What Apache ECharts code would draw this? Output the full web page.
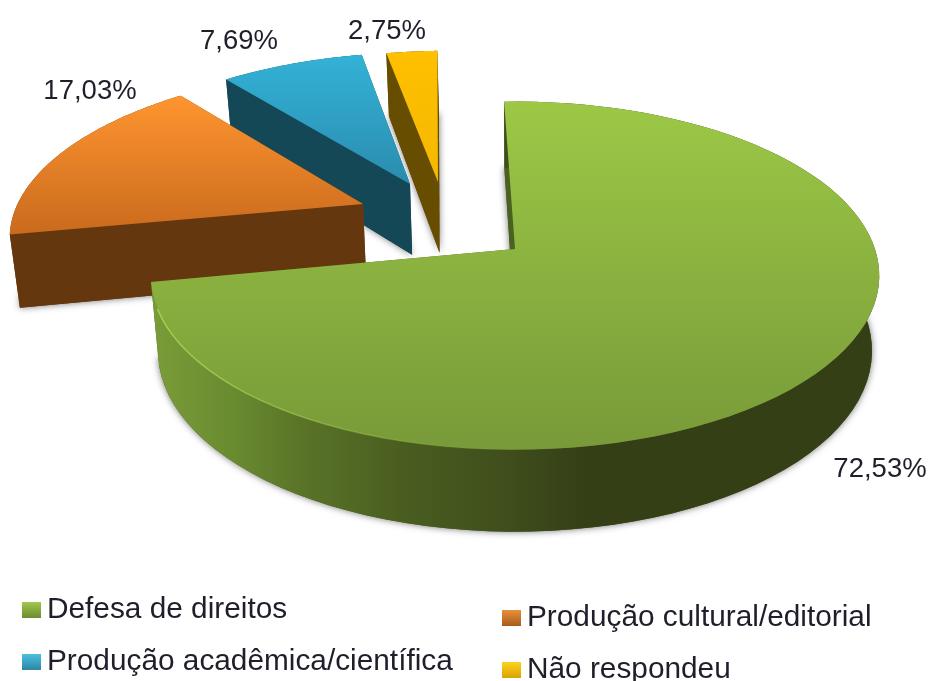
<!DOCTYPE html>
<html>
<head>
<meta charset="utf-8">
<style>
  html, body { margin: 0; padding: 0; background: #fff; }
  #chart { width: 928px; height: 681px; }
</style>
</head>
<body>
<div id="chart"></div>
<script src="https://cdn.jsdelivr.net/npm/echarts@6/dist/echarts.min.js"></script>
<script>
// valores
const categories = ['Defesa de direitos', 'Produção cultural/editorial', 'Produção acadêmica/científica', 'Não respondeu']
const percentValues = [72.53, 17.03, 7.69, 2.75]

// layout da pizza 3D
const centerX = 515
const centerY = 249
const radiusX = 360
const radiusY = 170
const perspective = 0.153
const startAngle = -2
const explodeX = [0, -152, -105, -77]
const explodeY = [0, -45, -65, -67]
const labelX = [880, 90, 239, 387]
const labelY = [469, 91, 41, 31]
const labelFont = '27.5px "Liberation Sans", Arial, sans-serif'

const topColors = [['#9cc846', '#789a39'], ['#ff9530', '#c96a1d'], ['#33b2d7', '#2a8cae'], ['#ffc000', '#f5b800']]
const sideColors = ['#4a6120', '#65370e', '#144857', '#664d00']
const legendColors = [['#a3c64f', '#6d8c30'], ['#e8903a', '#a85c1c'], ['#4cc0de', '#2d86a6'], ['#ffd21f', '#d8a400']]

const total = percentValues.reduce((a, b) => a + b, 0)

const rimColor = (i) => {
  if (i !== 0) return sideColors[i]
  return new echarts.graphic.LinearGradient(150, 0, 880, 0, [
    { offset: 0, color: '#7a9c39' },
    { offset: 0.11, color: '#6a8c30' },
    { offset: 0.205, color: '#5a7428' },
    { offset: 0.34, color: '#4a5e20' },
    { offset: 0.48, color: '#404f1c' },
    { offset: 0.6, color: '#343f16' },
    { offset: 1, color: '#343f16' }
  ], true)
}

// plano -> tela; bottom = camada inferior do disco
const project = (wx, wy, bottom) => {
  const s = 1 / (1 - perspective * wy)
  const x = radiusX * wx * s
  const y = radiusY * wy * s
  if (!bottom) return [centerX + x, centerY + y]
  return [centerX + x * 0.98, centerY + y + 74 + 8 * wy]
}

const sliceShape = (i) => {
  const before = percentValues.slice(0, i).reduce((a, b) => a + b, 0)
  const a0 = startAngle + before / total * 360
  const a1 = a0 + percentValues[i] / total * 360
  // deslocamento da fatia em coordenadas do plano
  const wy0 = explodeY[i] / (radiusY + perspective * explodeY[i])
  const wx0 = explodeX[i] * (1 - perspective * wy0) / radiusX
  const arcWorld = []
  for (let k = 0; k <= 90; k++) {
    const t = (a0 + (a1 - a0) * k / 90) * Math.PI / 180
    arcWorld.push([wx0 + Math.sin(t), wy0 - Math.cos(t)])
  }
  const arcTop = arcWorld.map(p => project(p[0], p[1], false))
  const arcBottom = arcWorld.map(p => project(p[0], p[1], true))
  return {
    arcTop,
    arcBottom,
    apexTop: project(wx0, wy0, false),
    apexBottom: project(wx0, wy0, true)
  }
}

const renderSlice = (i) => () => {
  const s = sliceShape(i)
  const last = s.arcTop.length - 1
  const poly = (points, style) => ({ type: 'polygon', shape: { points }, style })
  const topFill = new echarts.graphic.LinearGradient(0, 0, 0, 1, [
    { offset: 0, color: topColors[i][0] },
    { offset: 1, color: topColors[i][1] }
  ])
  const children = [
    poly([s.apexBottom].concat(s.arcBottom), {
      fill: sideColors[i],
      shadowBlur: 7,
      shadowColor: 'rgba(0,0,0,0.55)'
    }),
    poly([s.arcTop[0], s.apexTop, s.apexBottom, s.arcBottom[0]], { fill: sideColors[i] }),
    poly([s.arcTop[last], s.apexTop, s.apexBottom, s.arcBottom[last]], { fill: sideColors[i] }),
    poly(s.arcTop.concat(s.arcBottom.slice().reverse()), { fill: rimColor(i) }),
    poly([s.apexTop].concat(s.arcTop), { fill: topFill })
  ]
  // filete claro na borda frontal esquerda da fatia verde
  if (i === 0) {
    children.push({
      type: 'polyline',
      shape: { points: s.arcTop.filter(p => p[0] < 520 && p[1] > centerY + 60) },
      style: {
        fill: 'none',
        lineWidth: 1.5,
        stroke: new echarts.graphic.LinearGradient(160, 0, 500, 0, [
          { offset: 0, color: 'rgba(168,212,80,0.9)' },
          { offset: 1, color: 'rgba(168,212,80,0)' }
        ], true)
      }
    })
  }
  children.push({
    type: 'text',
    style: {
      text: percentValues[i].toFixed(2).replace('.', ',') + '%',
      x: labelX[i],
      y: labelY[i],
      align: 'center',
      verticalAlign: 'middle',
      font: labelFont,
      fill: '#1f1f2b'
    }
  })
  return { type: 'group', children }
}

const legendItem = (i) => ({
  name: categories[i],
  icon: 'rect',
  itemStyle: {
    color: new echarts.graphic.LinearGradient(0, 0, 0, 1, [
      { offset: 0, color: legendColors[i][0] },
      { offset: 1, color: legendColors[i][1] }
    ])
  }
})

const legendBase = {
  orient: 'vertical',
  selectedMode: false,
  itemWidth: 19,
  itemHeight: 16,
  itemGap: 22,
  padding: 0,
  height: 120,
  textStyle: { fontFamily: '"Liberation Sans", Arial, sans-serif', fontSize: 29.8, color: '#1f1f2b', padding: [0, 0, 0, 1] }
}

// ordem de desenho: verde por ultimo, por cima das outras
const drawOrder = [3, 2, 1, 0]

const chart = echarts.init(document.getElementById('chart'))
chart.setOption({
  animation: false,
  backgroundColor: '#fff',
  legend: [
    Object.assign({}, legendBase, { left: 22, top: 595, data: [legendItem(0), legendItem(2)] }),
    Object.assign({}, legendBase, { left: 502, top: 603, data: [legendItem(1), legendItem(3)] })
  ],
  series: drawOrder.map((i, n) => ({
    type: 'custom',
    name: categories[i],
    coordinateSystem: 'none',
    z: n + 1,
    silent: true,
    renderItem: renderSlice(i),
    data: [[percentValues[i]]]
  }))
})
</script>
</body>
</html>
